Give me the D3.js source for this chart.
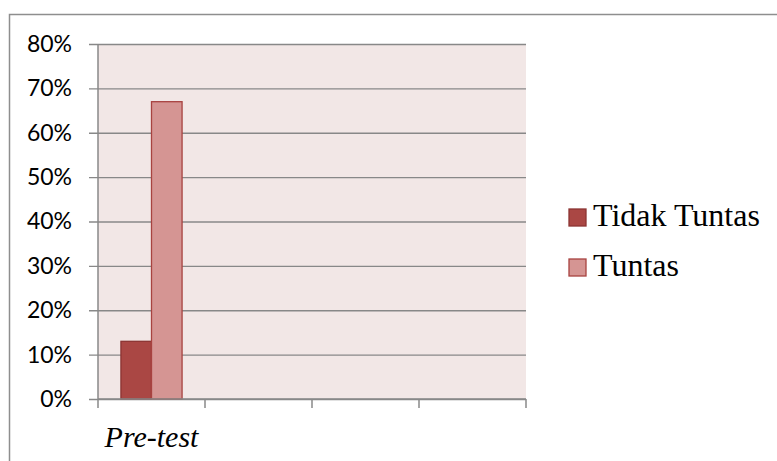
<!DOCTYPE html>
<html>
<head>
<meta charset="utf-8">
<script src="https://cdn.jsdelivr.net/npm/d3@7"></script>
<style>
  html, body { margin: 0; padding: 0; background: #ffffff; }
  svg { display: block; }
</style>
</head>
<body>
<svg id="chart" width="777" height="461"></svg>
<script>
// Category axis: four slots, only the first one is filled
const categories = ["Pre-test", "", "", ""];
const seriesNames = ["Tidak Tuntas", "Tuntas"];
const tidakTuntas = [0.13, null, null, null];
const tuntas = [0.67, null, null, null];
const yTicks = [0, 0.1, 0.2, 0.3, 0.4, 0.5, 0.6, 0.7, 0.8];

const colors = {
  "Tidak Tuntas": { fill: "#aa4744", stroke: "#8c3533" },
  "Tuntas": { fill: "#d59593", stroke: "#a84340" }
};

const svg = d3.select("#chart");
const plot = { left: 98, top: 44, right: 526, bottom: 399 };

// Outer chart frame (continues past the right and bottom edges)
svg.append("rect")
  .attr("x", 9.5).attr("y", 14.5)
  .attr("width", 800).attr("height", 500)
  .attr("fill", "#ffffff")
  .attr("stroke", "#8e8e8e")
  .attr("stroke-width", 1.5);

const x = d3.scaleBand()
  .domain(d3.range(categories.length))
  .range([plot.left, plot.right]);

const x1 = d3.scaleBand()
  .domain(seriesNames)
  .range([0, x.bandwidth()])
  .paddingInner(0)
  .paddingOuter(0.75);

const y = d3.scaleLinear()
  .domain([0, 0.8])
  .range([plot.bottom, plot.top]);

// Plot background
svg.append("rect")
  .attr("x", plot.left).attr("y", plot.top)
  .attr("width", plot.right - plot.left)
  .attr("height", plot.bottom - plot.top)
  .attr("fill", "#f2e7e6");

// Horizontal gridlines with left tick stubs
const yAxis = d3.axisLeft(y)
  .tickValues(yTicks)
  .tickFormat(d3.format(".0%"))
  .tickSize(-(plot.right - plot.left))
  .tickPadding(26);

const gy = svg.append("g")
  .attr("transform", `translate(${plot.left},0)`)
  .call(yAxis);
gy.select(".domain").remove();
gy.selectAll(".tick line")
  .attr("x1", -9)
  .attr("stroke", "#888888")
  .attr("stroke-width", 1.3);
gy.selectAll(".tick text")
  .attr("font-family", "Lato, 'Open Sans', sans-serif")
  .attr("font-size", 23)
  .attr("fill", "#000000");

// Y axis line
svg.append("line")
  .attr("x1", plot.left).attr("x2", plot.left)
  .attr("y1", plot.top).attr("y2", plot.bottom)
  .attr("stroke", "#888888").attr("stroke-width", 1.5);

// Bars
const groups = svg.append("g").selectAll("g")
  .data(categories.map((c, i) => ({ i, values: [tidakTuntas[i], tuntas[i]] })))
  .join("g")
  .attr("transform", d => `translate(${x(d.i)},0)`);

groups.selectAll("rect")
  .data(d => d.values.map((v, k) => ({ name: seriesNames[k], v })).filter(e => e.v != null))
  .join("rect")
  .attr("x", d => x1(d.name))
  .attr("y", d => y(d.v))
  .attr("width", x1.bandwidth())
  .attr("height", d => y(0) - y(d.v))
  .attr("fill", d => colors[d.name].fill)
  .attr("stroke", d => colors[d.name].stroke)
  .attr("stroke-width", 1.3);

// X axis with ticks between categories
const xEdges = d3.range(categories.length + 1).map(i => plot.left + i * x.step());
svg.append("line")
  .attr("x1", plot.left).attr("x2", plot.right)
  .attr("y1", plot.bottom).attr("y2", plot.bottom)
  .attr("stroke", "#888888").attr("stroke-width", 1.5);
svg.append("g").selectAll("line")
  .data(xEdges)
  .join("line")
  .attr("x1", d => d).attr("x2", d => d)
  .attr("y1", plot.bottom).attr("y2", plot.bottom + 9)
  .attr("stroke", "#888888").attr("stroke-width", 1.5);

svg.append("g").selectAll("text")
  .data(categories)
  .join("text")
  .attr("x", (d, i) => x(i) + x.bandwidth() / 2)
  .attr("y", 447)
  .attr("text-anchor", "middle")
  .attr("font-family", "'Liberation Serif', 'Times New Roman', serif")
  .attr("font-style", "italic")
  .attr("font-size", 30)
  .attr("fill", "#000000")
  .text(d => d);

// Legend
const legend = svg.append("g").selectAll("g")
  .data(seriesNames)
  .join("g")
  .attr("transform", (d, i) => `translate(569,${209 + i * 50})`);
legend.append("rect")
  .attr("width", 17).attr("height", 17)
  .attr("fill", d => colors[d].fill)
  .attr("stroke", d => colors[d].stroke)
  .attr("stroke-width", 1.3);
legend.append("text")
  .attr("x", 24).attr("y", 17)
  .attr("font-family", "'Liberation Serif', 'Times New Roman', serif")
  .attr("font-size", 32)
  .attr("fill", "#000000")
  .text(d => d);
</script>
</body>
</html>
